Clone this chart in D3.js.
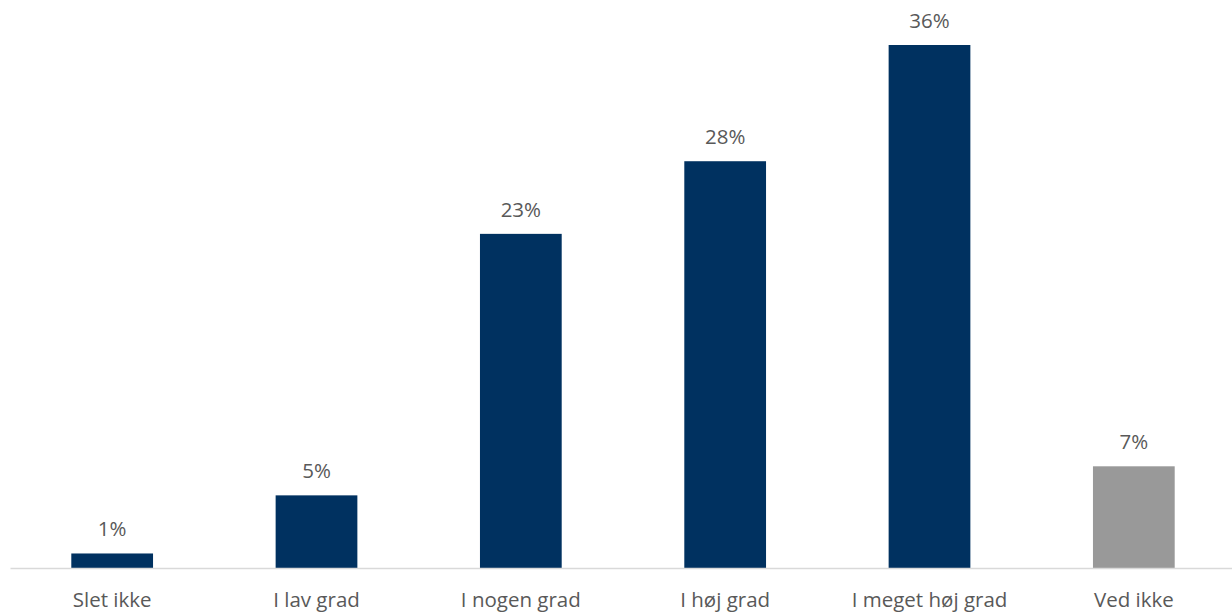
<!DOCTYPE html>
<html>
<head>
<meta charset="utf-8">
<script src="https://cdn.jsdelivr.net/npm/d3@7"></script>
<style>
  html, body { margin: 0; padding: 0; background: #fff; }
  svg { display: block; }
  text { font-family: "Open Sans", "Noto Sans", sans-serif; fill: #595959; }
</style>
</head>
<body>
<svg id="chart" width="1232" height="614"></svg>
<script>
const categories = ["Slet ikke", "I lav grad", "I nogen grad", "I høj grad", "I meget høj grad", "Ved ikke"];
const values = [1, 5, 23, 28, 36, 7];
const barColors = ["#003160", "#003160", "#003160", "#003160", "#003160", "#999999"];

const svg = d3.select("#chart");
const baseline = 568;
const fontSize = 20.5;

const x = d3.scaleBand()
  .domain(categories)
  .range([10, 1236])
  .paddingInner(0.6)
  .paddingOuter(0.3);

const y = d3.scaleLinear()
  .domain([0, 36])
  .range([baseline, 45]);

const data = categories.map((c, i) => ({ c, v: values[i], color: barColors[i] }));

svg.selectAll("rect.bar")
  .data(data)
  .join("rect")
  .attr("class", "bar")
  .attr("x", d => x(d.c))
  .attr("width", x.bandwidth())
  .attr("y", d => y(d.v))
  .attr("height", d => baseline - y(d.v))
  .attr("fill", d => d.color);

svg.selectAll("text.value")
  .data(data)
  .join("text")
  .attr("class", "value")
  .attr("x", d => x(d.c) + x.bandwidth() / 2)
  .attr("y", d => y(d.v) - 17)
  .attr("text-anchor", "middle")
  .attr("font-size", fontSize)
  .text(d => d.v + "%");

// category axis along the baseline
const axis = svg.append("g")
  .attr("transform", `translate(0,${baseline})`)
  .call(d3.axisBottom(x).tickSize(0).tickPadding(24));
axis.select(".domain").attr("stroke", "#d9d9d9").attr("stroke-width", 1.5);
axis.selectAll("text")
  .attr("font-size", fontSize)
  .attr("fill", "#595959")
  .style("font-family", '"Open Sans", "Noto Sans", sans-serif');
</script>
</body>
</html>
